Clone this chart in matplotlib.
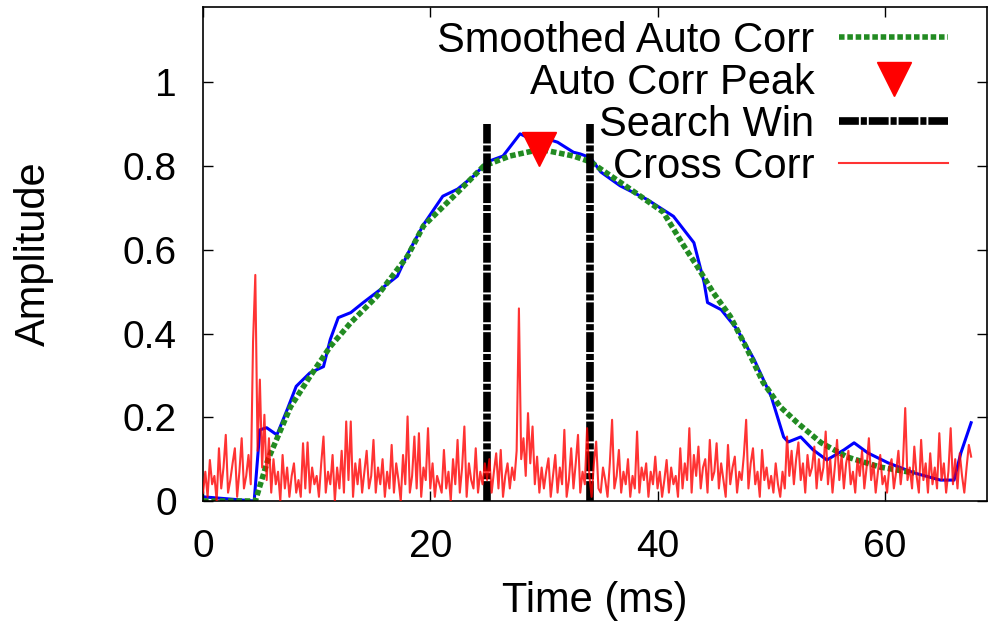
import numpy as np
import matplotlib
matplotlib.use("Agg")
import matplotlib.pyplot as plt

plt.rcParams["font.family"] = ["Liberation Sans", "DejaVu Sans"]

# raw auto correlation (blue, no legend entry)
auto_t = [0, 4.5, 5.0, 5.6, 6.5, 7.4, 8.2, 9.4, 10.6, 11.2, 11.9, 13.0, 14.1, 15.6,
          17.1, 18.0, 19.4, 21.1, 22.4, 23.8, 25.0, 26.4, 27.9, 28.8, 29.7, 31.2,
          32.6, 33.2, 34.1, 35.0, 36.7, 39.1, 41.4, 43.2, 44.1, 44.4, 45.6, 47.0,
          48.5, 50.0, 51.1, 51.5, 52.6, 53.7, 54.9, 56.4, 57.3, 58.5, 60.3, 62.6,
          64.9, 66.1, 66.7, 67.6]
auto_v = [0.01, 0.0, 0.17, 0.175, 0.158, 0.218, 0.274, 0.306, 0.321, 0.386, 0.438,
          0.450, 0.474, 0.505, 0.537, 0.59, 0.66, 0.728, 0.745, 0.776, 0.81, 0.824,
          0.877, 0.865, 0.87, 0.857, 0.833, 0.829, 0.82, 0.786, 0.753, 0.72, 0.68,
          0.617, 0.522, 0.474, 0.457, 0.41, 0.338, 0.25, 0.153, 0.141, 0.153, 0.122,
          0.098, 0.122, 0.139, 0.115, 0.091, 0.067, 0.05, 0.05, 0.115, 0.187]

# smoothed auto correlation (green dotted)
smooth_t = [0, 4.6, 5.7, 7.7, 9.4, 11.2, 13.0, 15.3, 18.0, 19.4, 22.4, 24.7, 27.0,
            29.7, 32.6, 34.1, 35.0, 37.6, 40.5, 42.3, 43.5, 44.9, 46.4, 47.9, 49.3,
            50.8, 52.3, 54.4, 56.7, 59.6, 62.6]
smooth_v = [0, 0, 0.098, 0.225, 0.297, 0.369, 0.426, 0.489, 0.585, 0.657, 0.737,
            0.80, 0.824, 0.84, 0.824, 0.81, 0.793, 0.745, 0.69, 0.61, 0.56, 0.498,
            0.441, 0.362, 0.283, 0.225, 0.187, 0.139, 0.105, 0.081, 0.067]

peak_t, peak_v = [29.6], [0.84]
win_t = [25.0, 34.1]
win_top = 0.9

# cross correlation, one value every 0.2 ms (rows of 5 ms)
cross_step = 0.2
cross_v = [
    0.02, 0.07, 0.01, 0.098, 0.04, 0.06, 0.0, 0.126, 0.03, 0.08, 0.158, 0.02, 0.05, 0.09, 0.126, 0.01, 0.07, 0.15, 0.03, 0.06, 0.11, 0.04, 0.38, 0.54, 0.12,
    0.29, 0.08, 0.206, 0.05, 0.15, 0.02, 0.10, 0.04, 0.07, 0.0, 0.11, 0.03, 0.08, 0.01, 0.06, 0.09, 0.02, 0.05, 0.01, 0.138, 0.03, 0.14, 0.02, 0.08, 0.04,
    0.06, 0.01, 0.09, 0.154, 0.02, 0.07, 0.04, 0.11, 0.0, 0.08, 0.03, 0.12, 0.02, 0.19, 0.05, 0.19, 0.01, 0.09, 0.04, 0.10, 0.02, 0.07, 0.12, 0.03, 0.06,
    0.146, 0.02, 0.08, 0.04, 0.10, 0.01, 0.07, 0.03, 0.134, 0.02, 0.09, 0.05, 0.0, 0.11, 0.04, 0.202, 0.02, 0.06, 0.154, 0.03, 0.162, 0.01, 0.08, 0.05, 0.174,
    0.03, 0.09, 0.01, 0.06, 0.04, 0.02, 0.122, 0.03, 0.07, 0.0, 0.10, 0.04, 0.146, 0.02, 0.08, 0.178, 0.01, 0.09, 0.05, 0.03, 0.126, 0.02, 0.07, 0.04, 0.09,
    0.05, 0.10, 0.02, 0.07, 0.114, 0.03, 0.122, 0.01, 0.06, 0.09, 0.03, 0.08, 0.05, 0.12, 0.46, 0.10, 0.15, 0.06, 0.21, 0.09, 0.178, 0.04, 0.106, 0.02, 0.08,
    0.03, 0.07, 0.102, 0.01, 0.06, 0.11, 0.02, 0.08, 0.04, 0.17, 0.01, 0.05, 0.126, 0.03, 0.09, 0.158, 0.02, 0.07, 0.04, 0.174, 0.06, 0.01, 0.09, 0.142, 0.03,
    0.02, 0.08, 0.05, 0.01, 0.09, 0.194, 0.03, 0.06, 0.122, 0.02, 0.07, 0.04, 0.10, 0.01, 0.06, 0.03, 0.166, 0.02, 0.08, 0.05, 0.09, 0.01, 0.07, 0.04, 0.106,
    0.03, 0.07, 0.01, 0.05, 0.098, 0.02, 0.08, 0.04, 0.06, 0.01, 0.126, 0.03, 0.09, 0.05, 0.174, 0.02, 0.11, 0.06, 0.13, 0.03, 0.08, 0.10, 0.02, 0.146, 0.05,
    0.07, 0.138, 0.03, 0.09, 0.05, 0.01, 0.134, 0.04, 0.08, 0.106, 0.02, 0.07, 0.05, 0.11, 0.194, 0.03, 0.09, 0.126, 0.04, 0.07, 0.01, 0.122, 0.05, 0.08, 0.03,
    0.06, 0.02, 0.09, 0.04, 0.01, 0.07, 0.03, 0.154, 0.06, 0.12, 0.04, 0.10, 0.14, 0.05, 0.09, 0.02, 0.11, 0.06, 0.08, 0.13, 0.03, 0.10, 0.05, 0.08, 0.166,
    0.04, 0.10, 0.02, 0.08, 0.146, 0.05, 0.11, 0.03, 0.09, 0.12, 0.04, 0.07, 0.02, 0.10, 0.06, 0.12, 0.03, 0.08, 0.15, 0.05, 0.09, 0.02, 0.07, 0.11, 0.04,
    0.06, 0.02, 0.08, 0.10, 0.03, 0.07, 0.12, 0.04, 0.09, 0.222, 0.05, 0.08, 0.03, 0.13, 0.06, 0.02, 0.146, 0.05, 0.09, 0.02, 0.114, 0.04, 0.08, 0.03, 0.162,
    0.05, 0.09, 0.02, 0.07, 0.174, 0.04, 0.10, 0.03, 0.114, 0.06, 0.02, 0.08, 0.134, 0.106,
]
cross_t = np.arange(len(cross_v)) * cross_step

xticks = [0, 20, 40, 60]
yticks = [0, 0.2, 0.4, 0.6, 0.8, 1.0]
ytick_labels = ["0", "0.2", "0.4", "0.6", "0.8", "1"]

fig = plt.figure(figsize=(9.9, 6.28), dpi=100)
ax = fig.add_axes([0.2051, 0.2022, 0.7919, 0.7867])
FS = 30

ax.plot(auto_t, auto_v, color="#0000ff", lw=2.2, zorder=1)
ax.plot(smooth_t, smooth_v, color="#228b22", lw=4.0, ls=(0, (1.0, 0.5)),
        zorder=2, label="Smoothed Auto Corr")
ax.plot(peak_t, peak_v, ls="none", marker="v", ms=24, color="red", mec="red",
        zorder=4, label="Auto Corr Peak")
for i, t in enumerate(win_t):
    ax.plot([t, t], [0, win_top], color="black", lw=5.5,
            ls=(0, (2.6, 0.25, 0.8, 0.25)), zorder=3,
            label="Search Win" if i == 0 else None)
ax.plot(cross_t, cross_v, color="red", lw=1.5, alpha=0.8, zorder=5,
        label="Cross Corr")

ax.set_xlim(0, 69)
ax.set_ylim(0, 1.18)
ax.set_xticks(xticks)
ax.set_yticks(yticks)
ax.set_yticklabels(ytick_labels)
ax.tick_params(direction="in", length=7, width=1, top=True, right=True,
               labelsize=28)
ax.tick_params(axis="x", pad=20)
ax.tick_params(axis="y", pad=19)
for s in ax.spines.values():
    s.set_linewidth(1.2)

ax.set_xlabel("Time (ms)", fontsize=FS, labelpad=12)
ax.set_ylabel("Amplitude", fontsize=FS)
ax.yaxis.set_label_coords(-0.19, 0.5)

ax.legend(loc="upper right", bbox_to_anchor=(0.95, 0.972), markerfirst=False,
          frameon=False, fontsize=FS, handlelength=2.6, handletextpad=0.6,
          labelspacing=0.05, borderpad=0, borderaxespad=0)

fig.savefig("out.png", dpi=100)
